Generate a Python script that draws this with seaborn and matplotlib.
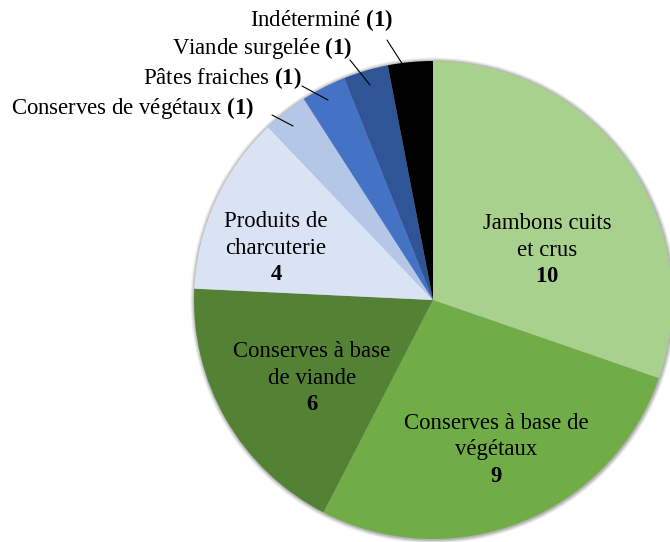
import matplotlib.pyplot as plt
from matplotlib.patches import Circle
import seaborn as sns

# Données du graphique
categories = [
    "Jambons cuits\net crus",
    "Conserves à base de\nvégétaux",
    "Conserves à base\nde viande",
    "Produits de\ncharcuterie",
    "Conserves de végétaux",
    "Pâtes fraiches",
    "Viande surgelée",
    "Indéterminé",
]
values = [10, 9, 6, 4, 1, 1, 1, 1]
colors = ["#A9D18E", "#70AD47", "#548235", "#DAE3F3",
          "#B4C7E7", "#4472C4", "#2F5597", "#000000"]

W, H = 670, 542

sns.set_theme(style="white")
plt.rcParams["font.family"] = ["Liberation Serif", "DejaVu Serif"]
plt.rcParams["mathtext.fontset"] = "custom"
plt.rcParams["mathtext.rm"] = "Liberation Serif"
plt.rcParams["mathtext.bf"] = "Liberation Serif:bold"

fig = plt.figure(figsize=(W / 100, H / 100), dpi=100)
ax = fig.add_axes([0, 0, 1, 1])


def y(py):
    # coordonnées pixel (origine en haut) -> coordonnées données
    return H - py


cx, cy, r = 433, y(300), 239

# Ombre douce autour du camembert
for k, a in enumerate([0.05, 0.07, 0.09, 0.11]):
    ax.add_patch(Circle((cx + 0.5, cy - 0.5), r + 4 - k, color="black",
                        alpha=a, lw=0, zorder=0))

ax.pie(
    values,
    colors=colors,
    startangle=90,
    counterclock=False,
    center=(cx, cy),
    radius=r,
    frame=True,
    wedgeprops={"linewidth": 0, "zorder": 1},
)
ax.set_xlim(0, W)
ax.set_ylim(0, H)
ax.set_aspect("equal")
ax.axis("off")

fs = 16.4

# Étiquettes à l'intérieur des parts
inside = {0: (547, 250), 1: (496, 450), 2: (312, 378), 3: (276, 248)}
for i, (px, py) in inside.items():
    ax.text(px, y(py), f"{categories[i]}\n$\\mathbf{{{values[i]}}}$",
            ha="center", va="center", fontsize=fs, linespacing=1.35,
            color="black", zorder=3)

# Étiquettes extérieures avec traits de rappel
outside = {
    4: ((254, 108), (272, 115), (293, 126)),
    5: ((302, 78), (302, 86), (328, 100)),
    6: ((352, 48), (350, 60), (370, 85)),
    7: ((393, 20), (387, 40), (403, 65)),
}
for i, ((tx, ty), (x0, y0), (x1, y1)) in outside.items():
    ax.text(tx, y(ty), f"{categories[i]} $\\mathbf{{({values[i]})}}$",
            ha="right", va="center", fontsize=fs, color="black", zorder=3)
    ax.plot([x0, x1], [y(y0), y(y1)], color="black", lw=0.8, zorder=3)

plt.savefig("out.png", dpi=100)
